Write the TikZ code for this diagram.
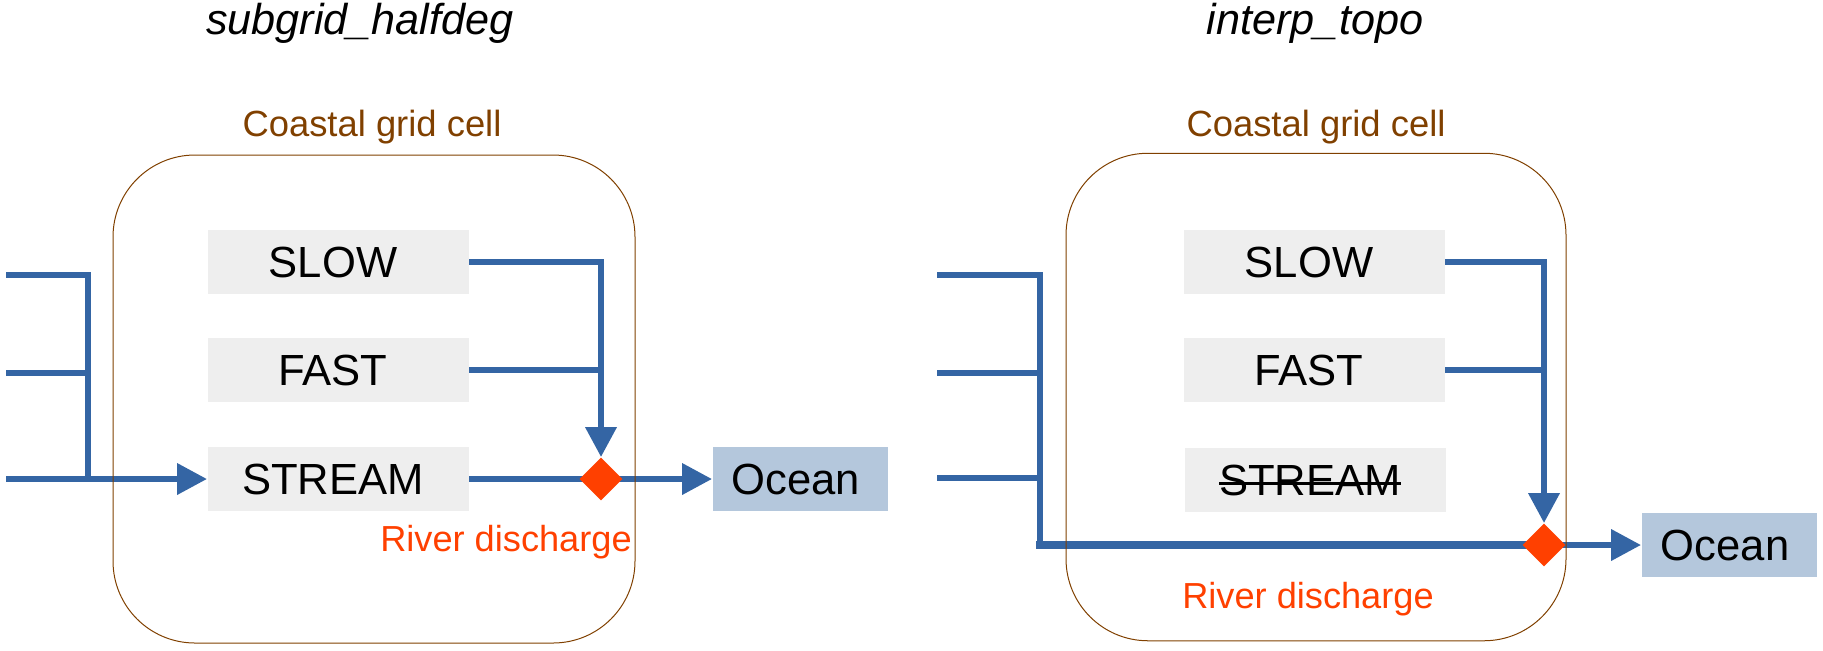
\documentclass[tikz,border=0pt]{standalone}
\usepackage{fontspec}
\setmainfont{Liberation Sans}
\usetikzlibrary{shapes.geometric,arrows.meta,positioning,backgrounds}
\definecolor{flowblue}{RGB}{52,101,164}
\definecolor{disred}{RGB}{255,64,0}
\definecolor{cellbrown}{RGB}{128,64,0}
\definecolor{resgray}{RGB}{238,238,238}
\definecolor{oceanblue}{RGB}{180,199,220}
\newcommand{\strikeword}[1]{\sbox0{#1}\rlap{\usebox0}\rule[0.24em]{\wd0}{1.3pt}}

\begin{document}
\begin{tikzpicture}[x=0.5pt, y=-0.5pt,
    cell/.style={draw=cellbrown, line width=0.5pt, rounded corners=41pt,
                 minimum width=261pt, minimum height=244pt},
    res/.style={fill=resgray, minimum width=130.5pt, minimum height=32pt,
                inner sep=0pt, font=\fontsize{21.8}{25}\selectfont,
                execute at end node=\hspace*{5pt}},
    ocean/.style={fill=oceanblue, minimum width=87.5pt, minimum height=32pt,
                  inner sep=0pt, font=\fontsize{21.8}{25}\selectfont,
                  execute at end node=\hspace*{4pt}},
    junc/.style={diamond, fill=disred, minimum width=21.5pt, minimum height=21.5pt,
                 inner sep=0pt},
    flow/.style={draw=flowblue, line width=3.3pt},
    arr/.style={flow, -{Triangle[length=15pt,width=15pt]}},
    titletext/.style={font=\fontsize{21.6}{26}\selectfont\itshape},
    celllabel/.style={text=cellbrown, font=\fontsize{18.2}{22}\selectfont},
    dislabel/.style={text=disred, font=\fontsize{18.1}{22}\selectfont}
]
\useasboundingbox (0,0) rectangle (1823,650);

% subgrid_halfdeg (left)
\node[titletext] (title1) at (360,23) {subgrid\_halfdeg};
\node[celllabel] (clab1) at (372,127) {Coastal grid cell};
\node[cell] (cell1) at (374,399) {};

\node[res] (slow1) at (338,262) {SLOW};
\node[res] (fast1) at (338,370) {FAST};
\node[res] (stream1) at (338,479) {STREAM};
\node[ocean] (ocean1) at (800,479) {Ocean};
\node[junc] (dis1) at (601,479) {};
\node[dislabel] (dlab1) at (506,542) {River discharge};

\coordinate (lin1) at (6,275);
\coordinate (lin2) at (6,373);
\coordinate (lin3) at (6,479);
\coordinate (ljoin) at (88,479);

\begin{scope}[on background layer]
\draw[arr] (lin1) -| (ljoin) -- (stream1.west);
\draw[flow] (lin2) -- (lin2 -| ljoin);
\draw[flow] (lin3) -- (ljoin);
\draw[arr] (slow1.east) -| (dis1.north);
\draw[flow] (fast1.east) -- (fast1.east -| dis1.north);
\draw[flow] (stream1.east) -- (dis1.center);
\draw[arr] (dis1.center) -- (ocean1.west);
\end{scope}

% interp_topo (right)
\node[titletext] (title2) at (1315,23) {interp\_topo};
\node[celllabel] (clab2) at (1316,127) {Coastal grid cell};
\node[cell, minimum width=250pt, minimum height=243.75pt] (cell2) at (1316,397) {};

\node[res] (slow2) at (1314,262) {SLOW};
\node[res] (fast2) at (1314,370) {FAST};
\node[res] (stream2) at (1315,480) {\strikeword{STREAM}};
\node[ocean] (ocean2) at (1729,545) {Ocean};
\node[junc] (dis2) at (1544,545) {};
\node[dislabel] (dlab2) at (1308,599) {River discharge};

\coordinate (rin1) at (937,275);
\coordinate (rin2) at (937,373);
\coordinate (rin3) at (937,478);
\coordinate (rjoin) at (1040,545);

\begin{scope}[on background layer]
\draw[flow] (rin1) -| (rjoin);
\draw[flow] (rin2) -- (rin2 -| rjoin);
\draw[flow] (rin3) -- (rin3 -| rjoin);
\draw[flow, line width=3.7pt, line cap=rect] (rjoin) -- (dis2.center);
\draw[arr] (slow2.east) -| (dis2.north);
\draw[flow] (fast2.east) -- (fast2.east -| dis2.north);
\draw[arr] (dis2.center) -- (ocean2.west);
\end{scope}

\end{tikzpicture}
\end{document}
